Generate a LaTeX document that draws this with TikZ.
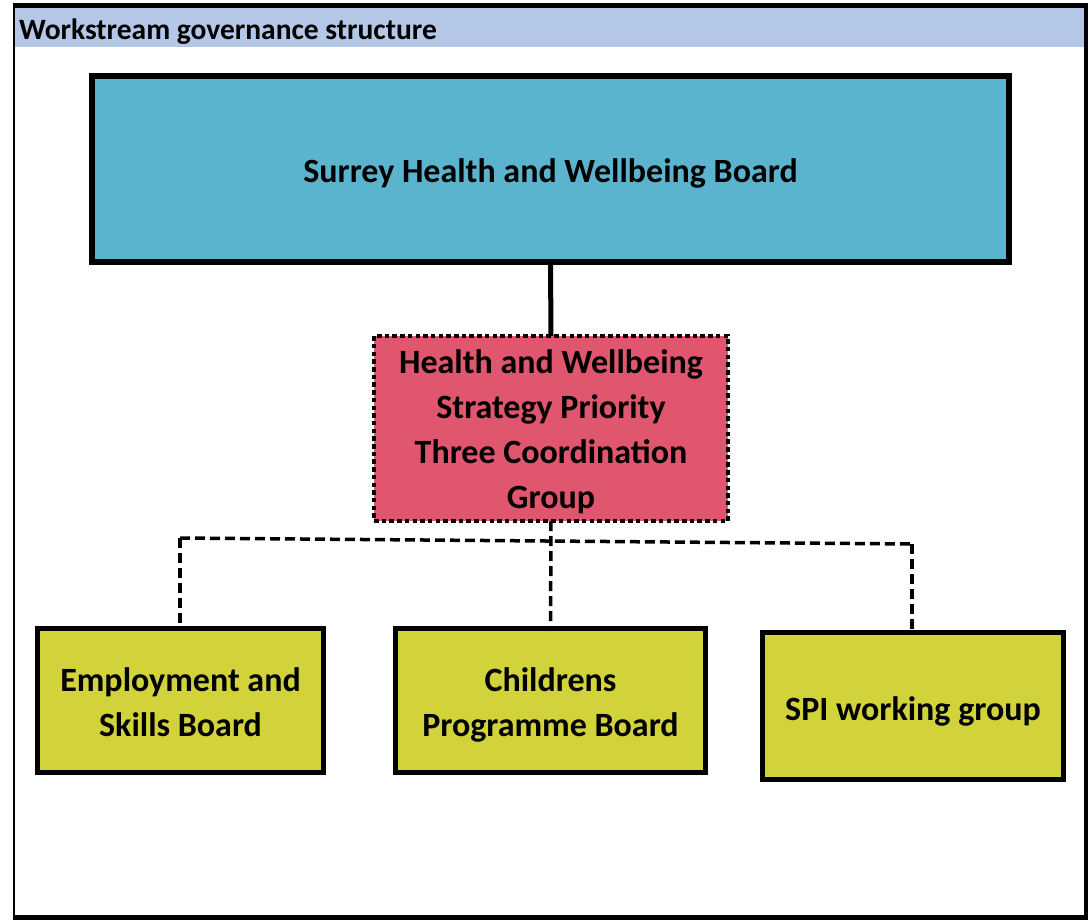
\documentclass[tikz,border=0pt]{standalone}
\usepackage{fontspec}
\setmainfont{Carlito}
\begin{document}
\begin{tikzpicture}[x=1pt,y=-1pt,
  boxtext/.style={font=\bfseries\fontsize{34}{45}\selectfont, align=center, text=black, inner sep=0pt, outer sep=0pt},
  topbox/.style={draw=black, line width=6pt, fill=boardblue, minimum width=917pt, minimum height=186pt, inner sep=0pt, outer sep=0pt},
  groupbox/.style={draw=black, line width=4.5pt, dash pattern=on 4.5pt off 3.2pt, fill=grouppink, minimum width=354pt, minimum height=185pt, inner sep=0pt, outer sep=0pt},
  childbox/.style={draw=black, line width=5pt, fill=childgreen, minimum height=144pt, inner sep=0pt, outer sep=0pt},
  solidlink/.style={draw=black, line width=5pt},
  dashlink/.style={draw=black, line width=3.5pt, dash pattern=on 10pt off 5pt}
]
\definecolor{headerblue}{RGB}{180,199,231}
\definecolor{boardblue}{RGB}{90,180,206}
\definecolor{grouppink}{RGB}{224,86,110}
\definecolor{childgreen}{RGB}{210,210,58}

\useasboundingbox (0,0) rectangle (1088,921);
\fill[white] (0,0) rectangle (1088,921);

% frame and title band
\fill[headerblue] (15,8) rectangle (1084,47);
\fill[black] (13,3) rectangle (1088,8);
\fill[black] (13,3) rectangle (15,920);
\fill[black] (1084,3) rectangle (1088,920);
\fill[black] (13,915) rectangle (1088,920);
\node[anchor=base west, inner sep=0pt, font=\bfseries\fontsize{29.5}{32}\selectfont] (title) at (19,39) {Workstream governance structure};

% boxes
\node[topbox] (board) at (550.5,169) {};
\node[groupbox] (group) at (551,428.5) {};
\node[childbox, minimum width=286pt] (esb) at (180.5,700.5) {};
\node[childbox, minimum width=310pt] (cpb) at (550.5,700.5) {};
\node[childbox, minimum width=301pt, minimum height=147pt] (spi) at (913,706) {};

% box labels
\node[boxtext] (boardtext) at ([yshift=-4pt]board.center) {Surrey Health and Wellbeing Board};
\node[boxtext] (grouptext) at ([yshift=-3pt]group.center) {Health and Wellbeing\\Strategy Priority\\Three Coordination\\Group};
\node[boxtext] (esbtext) at ([yshift=-2pt]esb.center) {Employment and\\Skills Board};
\node[boxtext] (cpbtext) at ([yshift=-4pt]cpb.center) {Childrens\\Programme Board};
\node[boxtext] (spitext) at ([yshift=-5pt]spi.center) {SPI working group};

% connectors
\draw[solidlink] (board.south) -- (group.north);
\coordinate (jl) at (180,538);
\coordinate (jr) at (912,544);
\draw[dashlink] (group.south) -- (cpb.north);
\draw[dashlink] (jl) -- (jr);
\draw[dashlink] (jl) -- (esb.north -| jl);
\draw[dashlink] (jr) -- (spi.north -| jr);
\end{tikzpicture}
\end{document}
